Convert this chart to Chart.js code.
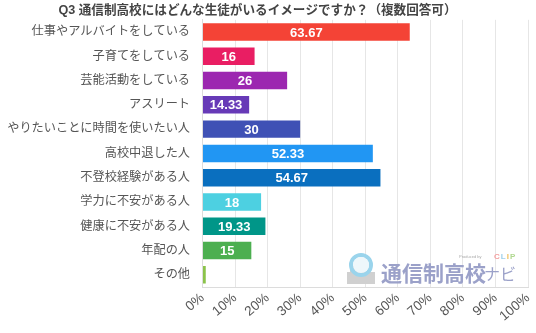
<!DOCTYPE html>
<html>
<head>
<meta charset="utf-8">
<script src="https://cdn.jsdelivr.net/npm/chart.js@4"></script>
<style>
  html, body { margin: 0; padding: 0; background: #fff; }
  #wrap { width: 536px; height: 333px; position: relative; }
</style>
</head>
<body>
<div id="wrap"><canvas id="chart"></canvas></div>
<script>
const categories = [
  '仕事やアルバイトをしている',
  '子育てをしている',
  '芸能活動をしている',
  'アスリート',
  'やりたいことに時間を使いたい人',
  '高校中退した人',
  '不登校経験がある人',
  '学力に不安がある人',
  '健康に不安がある人',
  '年配の人',
  'その他'
]
const values = [63.67, 16, 26, 14.33, 30, 52.33, 54.67, 18, 19.33, 15, 1]
const barColors = [
  '#f44336', '#e91e63', '#9c27b0', '#673ab7', '#3f51b5', '#2196f3',
  '#0a6fbf', '#4dd0e1', '#009688', '#4caf50', '#8bc34a'
]
const xTicks = [0, 10, 20, 30, 40, 50, 60, 70, 80, 90, 100]
const titleText = 'Q3 通信制高校にはどんな生徒がいるイメージですか？（複数回答可）'

const FONT = '"Liberation Sans", "Noto Sans CJK JP", sans-serif'

// タイトル（少し左寄せで描く）
const chartTitle = {
  id: 'chartTitle',
  afterDraw(chart) {
    const { ctx } = chart
    ctx.save()
    ctx.fillStyle = '#444'
    ctx.font = 'bold 12.6px ' + FONT
    ctx.textAlign = 'center'
    ctx.textBaseline = 'middle'
    ctx.fillText(titleText, 257.5, 10.5)
    ctx.restore()
  }
}

// 値ラベル（小さい値は表示しない）
const barValueLabels = {
  id: 'barValueLabels',
  afterDatasetsDraw(chart) {
    const { ctx } = chart
    const meta = chart.getDatasetMeta(0)
    ctx.save()
    ctx.fillStyle = '#fff'
    ctx.font = 'bold 13px ' + FONT
    ctx.textAlign = 'center'
    ctx.textBaseline = 'middle'
    meta.data.forEach((bar, i) => {
      const v = values[i]
      if (v < 5) return
      ctx.fillText(String(v), (bar.base + bar.x) / 2, bar.y + 1)
    })
    ctx.restore()
  }
}

// 右下のロゴ
const logoMark = {
  id: 'logoMark',
  afterDraw(chart) {
    const { ctx } = chart
    ctx.save()
    // アイコン
    ctx.fillStyle = '#d0d0d0'
    ctx.fillRect(347, 272, 28, 12)
    ctx.fillRect(350, 266, 8, 8)
    ctx.strokeStyle = '#9ad4ec'
    ctx.lineWidth = 4
    ctx.beginPath()
    ctx.arc(361, 265, 10, 0, Math.PI * 2)
    ctx.stroke()
    ctx.fillStyle = '#eef7fb'
    ctx.beginPath()
    ctx.arc(361, 265, 8, 0, Math.PI * 2)
    ctx.fill()
    // 文字
    ctx.fillStyle = '#9ba1c9'
    ctx.textBaseline = 'alphabetic'
    ctx.textAlign = 'left'
    ctx.font = 'bold 21px "Noto Sans CJK JP", sans-serif'
    ctx.fillText('通信制高校', 381, 281)
    ctx.font = '16px "Noto Sans CJK JP", sans-serif'
    ctx.fillText('ナビ', 484, 280)
    ctx.fillStyle = '#aaa'
    ctx.font = '4px ' + FONT
    ctx.fillText('Produced by', 459, 258)
    ctx.font = 'bold 8px ' + FONT
    const clip = [['C', '#f4a0a0'], ['L', '#9fd0ea'], ['I', '#f0c060'], ['P', '#b0d890']]
    let x = 494
    clip.forEach(([ch, col]) => {
      ctx.fillStyle = col
      ctx.fillText(ch, x, 259)
      x += ctx.measureText(ch).width + 1
    })
    ctx.restore()
  }
}

new Chart(document.getElementById('chart'), {
  type: 'bar',
  data: {
    labels: categories,
    datasets: [{
      data: values,
      backgroundColor: barColors,
      borderWidth: 0,
      categoryPercentage: 1,
      barPercentage: 0.72
    }]
  },
  options: {
    indexAxis: 'y',
    responsive: true,
    maintainAspectRatio: false,
    animation: false,
    layout: { padding: { left: 0, right: 8, top: 19, bottom: 0 } },
    scales: {
      x: {
        min: 0,
        max: 100,
        afterBuildTicks(axis) {
          axis.ticks = xTicks.map(v => ({ value: v }))
        },
        afterFit(axis) {
          axis.height = 46
          axis.paddingLeft = 0
          axis.paddingRight = 0
        },
        grid: { color: '#e6e6e6', drawTicks: false },
        border: { color: '#dcdcdc' },
        ticks: {
          padding: 3,
          minRotation: 40,
          maxRotation: 40,
          color: '#555',
          font: { family: FONT, size: 13.5 },
          callback: v => v + '%'
        }
      },
      y: {
        afterFit(axis) {
          axis.width = 202.5
        },
        grid: { display: false, drawTicks: false },
        border: { color: '#dcdcdc' },
        ticks: {
          padding: 12.5,
          color: '#555',
          font: { family: FONT, size: 12.2 }
        }
      }
    },
    plugins: {
      legend: { display: false },
      tooltip: { enabled: false },
      title: { display: false }
    }
  },
  plugins: [barValueLabels, logoMark, chartTitle]
})
</script>
</body>
</html>
